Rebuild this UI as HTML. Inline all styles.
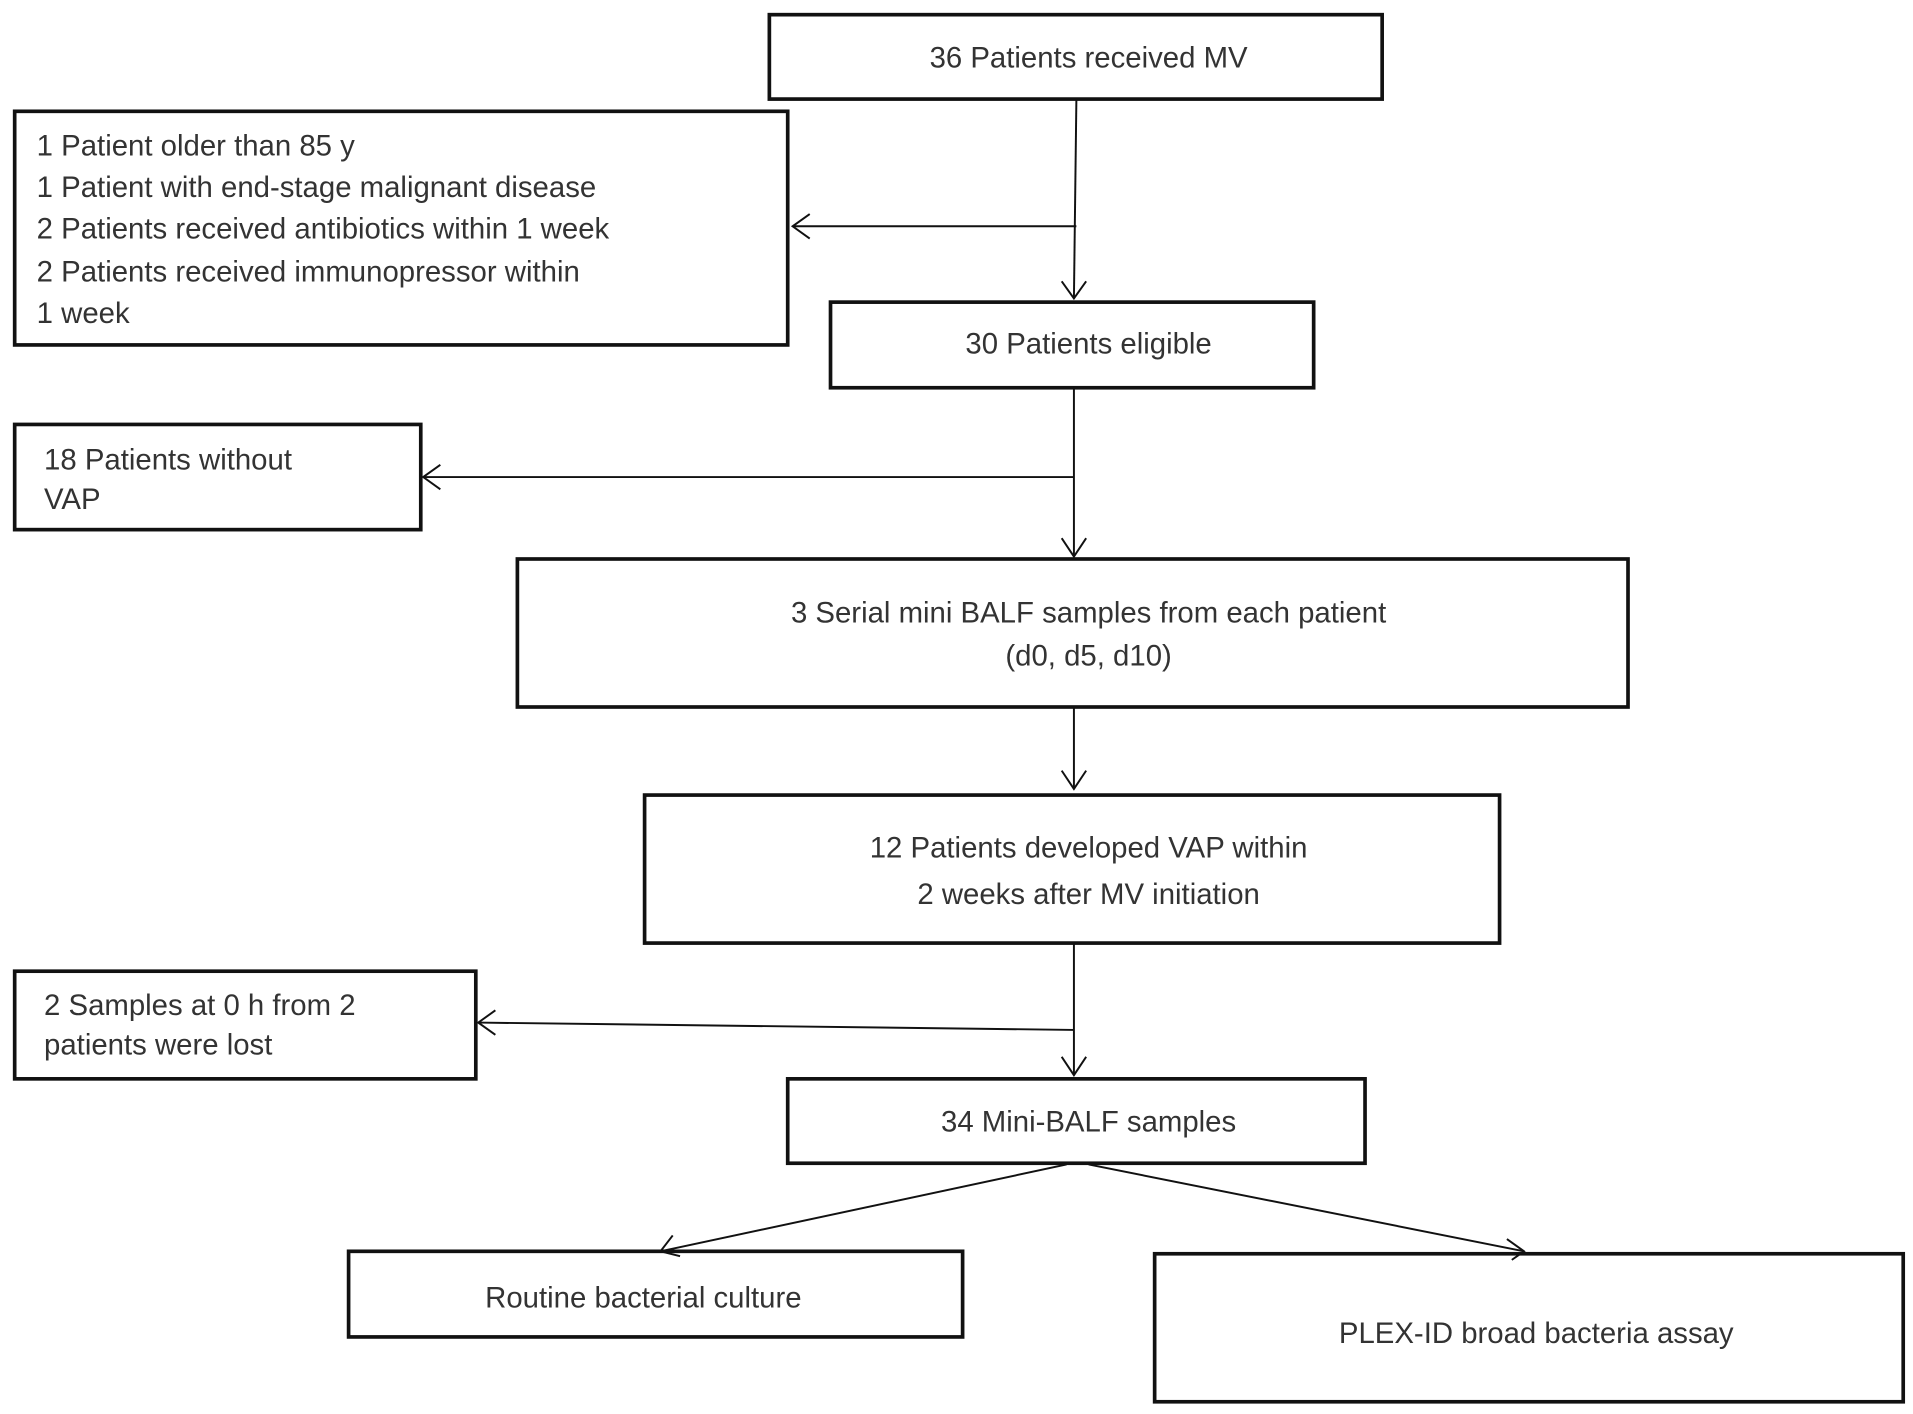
<!DOCTYPE html>
<html><head><meta charset="utf-8"><style>
html,body{margin:0;padding:0;background:#fff;}
svg{display:block;}
text{font-family:"Liberation Sans",sans-serif;font-size:24px;fill:#333;}
</style></head><body>
<svg width="1913" height="1414" viewBox="0 0 1564 1156" preserveAspectRatio="none" xmlns="http://www.w3.org/2000/svg">
<g fill="none" stroke="#111" stroke-width="3">
<rect x="629" y="12" width="501" height="69"/>
<rect x="12" y="91" width="632" height="191"/>
<rect x="679" y="247" width="395" height="70"/>
<rect x="12" y="347" width="332" height="86"/>
<rect x="423" y="457" width="908" height="121"/>
<rect x="527" y="650" width="699" height="121"/>
<rect x="12" y="794" width="377" height="88"/>
<rect x="644" y="882" width="472" height="69"/>
<rect x="285" y="1023" width="502" height="70"/>
<rect x="944" y="1025" width="612" height="121"/>
</g>
<g fill="none" stroke="#111" stroke-width="1.6">
<path d="M880 82 L878 244"/><path d="M868 230 L878 244 L888 230"/>
<path d="M880 185 L648 185"/><path d="M662 175 L648 185 L662 195"/>
<path d="M878 318 L878 455"/><path d="M868 440 L878 455 L888 440"/>
<path d="M878 390 L346 390"/><path d="M360 380 L346 390 L360 400"/>
<path d="M878 579 L878 645"/><path d="M868 630 L878 645 L888 630"/>
<path d="M878 772 L878 879"/><path d="M868 864 L878 879 L888 864"/>
<path d="M878 842 L391 836"/><path d="M405 826 L391 836 L405 846"/>
<path d="M872 952 L540 1023"/><path d="M550 1010 L540 1023 L556 1027"/>
<path d="M890 952 L1246 1023"/><path d="M1232 1013 L1246 1023 L1236 1030"/>
</g>
<text x="890" y="55" text-anchor="middle">36 Patients received MV</text>
<text x="30" y="127">1 Patient older than 85 y</text>
<text x="30" y="161">1 Patient with end-stage malignant disease</text>
<text x="30" y="195">2 Patients received antibiotics within 1 week</text>
<text x="30" y="230">2 Patients  received immunopressor within</text>
<text x="30" y="264">1 week</text>
<text x="890" y="289" text-anchor="middle">30 Patients eligible</text>
<text x="36" y="384">18 Patients without</text>
<text x="36" y="416">VAP</text>
<text x="890" y="509" text-anchor="middle">3 Serial mini BALF samples from each patient</text>
<text x="890" y="544" text-anchor="middle">(d0, d5, d10)</text>
<text x="890" y="701" text-anchor="middle">12 Patients developed VAP within</text>
<text x="890" y="739" text-anchor="middle">2 weeks after MV initiation</text>
<text x="36" y="830">2 Samples at 0 h from 2</text>
<text x="36" y="862">patients were lost</text>
<text x="890" y="925" text-anchor="middle">34 Mini-BALF samples</text>
<text x="526" y="1069" text-anchor="middle">Routine bacterial culture</text>
<text x="1256" y="1098" text-anchor="middle">PLEX-ID broad bacteria assay</text>
</svg>
</body></html>
